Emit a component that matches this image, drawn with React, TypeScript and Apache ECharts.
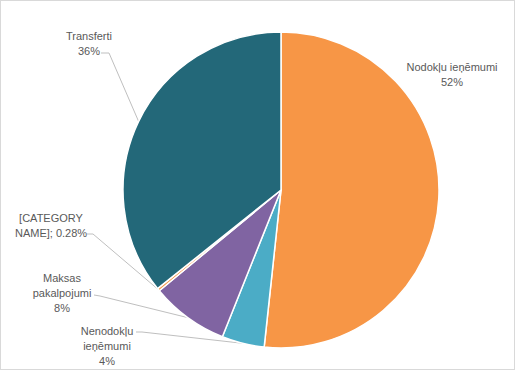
import React, { useEffect, useRef } from "react";
import * as echarts from "echarts";

const categories = [
  "Nodokļu ieņēmumi",
  "Nenodokļu ieņēmumi",
  "Maksas pakalpojumi",
  "[CATEGORY NAME]",
  "Transferti",
];
const labelNames = [
  "Nodokļu ieņēmumi",
  "Nenodokļu\nieņēmumi",
  "Maksas\npakalpojumi",
  "[CATEGORY\nNAME]",
  "Transferti",
];
const values = [51.7, 4.35, 7.95, 0.28, 35.72];
const colors = ["#F79646", "#4BACC6", "#8064A2", "#F79646", "#236879"];

// label anchor (center of text block) and label-line elbow / end
const labelPos = [
  { x: 451, y: 73, line: null },
  { x: 106, y: 345, line: [[141, 331], [135, 331]] },
  { x: 61, y: 292, line: [[99, 295], [93, 294]] },
  { x: 50, y: 224, line: [[92, 233], [86, 233]] },
  { x: 88, y: 42, line: [[108, 52], [100, 52]] },
];

export default function App() {
  const ref = useRef<HTMLDivElement>(null);
  useEffect(() => {
    if (!ref.current) return;
    const chart = echarts.init(ref.current, undefined, { renderer: "svg" });
    chart.setOption({
      animation: false,
      backgroundColor: "#ffffff",
      series: [
        {
          type: "pie",
          center: [280, 189],
          radius: 158,
          startAngle: 90,
          clockwise: true,
          avoidLabelOverlap: false,
          itemStyle: { borderColor: "#ffffff", borderWidth: 1.5 },
          label: {
            show: true,
            position: "outside",
            fontFamily: "Liberation Sans",
            fontSize: 11,
            lineHeight: 15,
            color: "#595959",
            align: "center",
            formatter: (p: any) => {
              const i = p.dataIndex;
              if (i === 3) return labelNames[i] + "; " + p.percent.toFixed(2) + "%";
              return labelNames[i] + "\n" + Math.round(p.percent) + "%";
            },
          },
          labelLine: {
            show: true,
            length: 10,
            length2: 10,
            lineStyle: { color: "#BFBFBF", width: 1 },
          },
          labelLayout: (params: any) => {
            const lp = labelPos[params.dataIndex];
            const res: any = {
              x: lp.x,
              y: lp.y,
              align: "center",
              verticalAlign: "middle",
            };
            if (lp.line && params.labelLinePoints) {
              const p0 = params.labelLinePoints[0];
              res.labelLinePoints = [p0, lp.line[0], lp.line[1]];
            }
            return res;
          },
          data: categories.map((name, i) => ({
            name,
            value: values[i],
            itemStyle: { color: colors[i] },
            labelLine: { show: i !== 0 },
          })),
        },
      ],
    });
    return () => chart.dispose();
  }, []);
  return (
    <div
      ref={ref}
      style={{
        position: "fixed",
        left: 0,
        top: 0,
        width: 515,
        height: 370,
        boxSizing: "border-box",
        border: "1px solid #D9D9D9",
        background: "#fff",
      }}
    />
  );
}
